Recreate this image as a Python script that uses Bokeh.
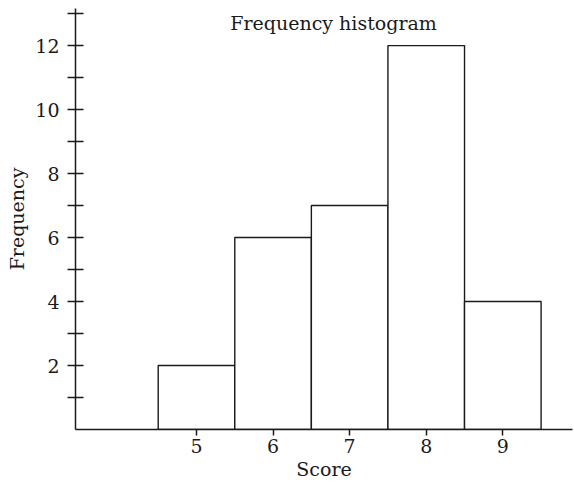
from bokeh.plotting import figure
from bokeh.models import Range1d, FixedTicker, Label, ColumnDataSource
from bokeh.embed import file_html
from bokeh.resources import INLINE

# data
scores = [5, 6, 7, 8, 9]
frequencies = [2, 6, 7, 12, 4]
y_major_ticks = [2, 4, 6, 8, 10, 12]
y_minor_ticks = [1, 3, 5, 7, 9, 11, 13]
x_ticks = [5, 6, 7, 8, 9]
title_text = "Frequency histogram"
x_label = "Score"
y_label = "Frequency"

FONT = "DejaVu Serif"
INK = "#1a1a1a"

p = figure(width=574, height=490, output_backend="svg", toolbar_location=None,
           x_range=Range1d(3.42, 9.91), y_range=Range1d(0, 13.16),
           min_border_left=75, min_border_right=2, min_border_top=8,
           min_border_bottom=61)
p.outline_line_color = None
p.xgrid.visible = False
p.ygrid.visible = False
p.background_fill_color = "white"
p.border_fill_color = "white"

src = ColumnDataSource(dict(x=scores, top=frequencies))
p.vbar(x="x", top="top", bottom=0, width=1.0, source=src,
       fill_color="white", line_color=INK, line_width=1.4)

# x axis
xa = p.xaxis[0]
xa.ticker = FixedTicker(ticks=x_ticks)
xa.axis_label = x_label
xa.major_tick_out = 6
xa.major_tick_in = 0
xa.minor_tick_out = 0
xa.minor_tick_in = 0
xa.major_label_standoff = 3
xa.axis_label_standoff = 2

# y axis
ya = p.yaxis[0]
ya.ticker = FixedTicker(ticks=y_major_ticks, minor_ticks=y_minor_ticks)
ya.axis_label = y_label
ya.major_tick_out = 8
ya.major_tick_in = 8
ya.minor_tick_out = 8
ya.minor_tick_in = 8
ya.major_label_standoff = 8
ya.axis_label_standoff = 4

for ax in (xa, ya):
    ax.axis_line_color = INK
    ax.axis_line_width = 1.5
    ax.major_tick_line_color = INK
    ax.major_tick_line_width = 1.5
    ax.minor_tick_line_color = INK
    ax.minor_tick_line_width = 1.5
    ax.major_label_text_font = FONT
    ax.major_label_text_font_size = "19px"
    ax.major_label_text_color = INK
    ax.axis_label_text_font = FONT
    ax.axis_label_text_font_size = "19px"
    ax.axis_label_text_font_style = "normal"
    ax.axis_label_text_color = INK

p.add_layout(Label(x=6.79, y=12.72, text=title_text, text_font=FONT,
                   text_font_size="19px", text_color=INK,
                   text_align="center", text_baseline="middle"))

open("out.html", "w").write(file_html(p, INLINE))
